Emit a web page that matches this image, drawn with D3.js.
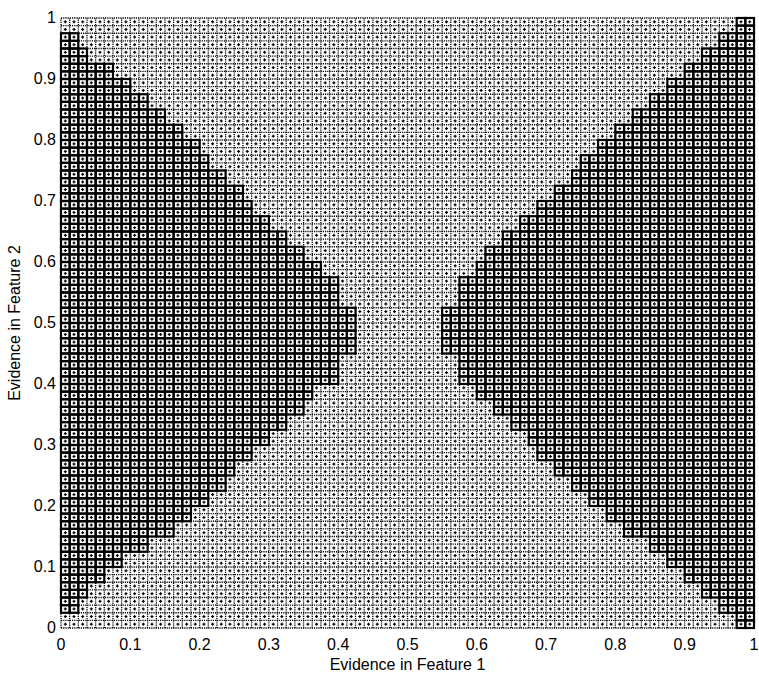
<!DOCTYPE html>
<html>
<head>
<meta charset="utf-8">
<script src="https://cdn.jsdelivr.net/npm/d3@7"></script>
<style>
  body { margin: 0; background: #fff; }
  text { font-family: "Liberation Sans", Arial, sans-serif; fill: #000; }
</style>
</head>
<body>
<svg id="chart" width="759" height="679"></svg>
<script>
// grid of the surface, seen from above
var cellSize = 0.0125;

// horizontal bands, bottom to top, each two grid rows high
var bandY = [0.0125, 0.0375, 0.0625, 0.0875, 0.1125, 0.1375, 0.1625, 0.1875, 0.2125, 0.2375,
             0.2625, 0.2875, 0.3125, 0.3375, 0.3625, 0.3875, 0.4125, 0.4375, 0.4625, 0.4875,
             0.5125, 0.5375, 0.5625, 0.5875, 0.6125, 0.6375, 0.6625, 0.6875, 0.7125, 0.7375,
             0.7625, 0.7875, 0.8125, 0.8375, 0.8625, 0.8875, 0.9125, 0.9375, 0.9625, 0.9875];

// right edge of the left dark region, per band
var leftEdge = [0, 0.02, 0.04, 0.065, 0.09, 0.125, 0.16, 0.185, 0.21, 0.235,
                0.255, 0.275, 0.30, 0.32, 0.345, 0.36, 0.395, 0.40, 0.42, 0.42,
                0.42, 0.395, 0.395, 0.375, 0.355, 0.33, 0.305, 0.28, 0.26, 0.24,
                0.215, 0.195, 0.175, 0.145, 0.12, 0.095, 0.07, 0.04, 0.02, 0];

// left edge of the right dark region, per band
var rightEdge = [0.975, 0.955, 0.93, 0.905, 0.88, 0.845, 0.81, 0.785, 0.76, 0.74,
                 0.715, 0.69, 0.67, 0.645, 0.625, 0.605, 0.572, 0.57, 0.545, 0.545,
                 0.545, 0.572, 0.572, 0.595, 0.615, 0.64, 0.665, 0.69, 0.715, 0.735,
                 0.755, 0.78, 0.80, 0.825, 0.85, 0.875, 0.90, 0.925, 0.955, 0.975];

var xTicks = [0, 0.1, 0.2, 0.3, 0.4, 0.5, 0.6, 0.7, 0.8, 0.9, 1];
var yTicks = [0, 0.1, 0.2, 0.3, 0.4, 0.5, 0.6, 0.7, 0.8, 0.9, 1];

var svg = d3.select('#chart');
var x = d3.scaleLinear().domain([0, 1]).range([61, 754]);
var y = d3.scaleLinear().domain([0, 1]).range([628, 18]);

var nCells = Math.round(1 / cellSize);
var cells = [];
d3.range(nCells).forEach(function(r) {
    var cy = (r + 0.5) * cellSize;
    var band = d3.minIndex(bandY, function(b) { return Math.abs(b - cy); });
    d3.range(nCells).forEach(function(c) {
        var cx = (c + 0.5) * cellSize;
        var dark = cx < leftEdge[band] || cx > rightEdge[band];
        cells.push({c: c, r: r, dark: dark});
    });
});

var plot = svg.append('g');

// light region: dotted mesh
var lines = d3.range(nCells + 1).map(function(i) { return i * cellSize; });
plot.selectAll('line.v').data(lines).enter().append('line')
    .attr('x1', function(d) { return x(d); }).attr('x2', function(d) { return x(d); })
    .attr('y1', y(0)).attr('y2', y(1))
    .attr('stroke', '#000').attr('stroke-width', 1.3)
    .attr('stroke-dasharray', '1.2,1');
plot.selectAll('line.h').data(lines).enter().append('line')
    .attr('y1', function(d) { return y(d); }).attr('y2', function(d) { return y(d); })
    .attr('x1', x(0)).attr('x2', x(1))
    .attr('stroke', '#000').attr('stroke-width', 1.3)
    .attr('stroke-dasharray', '1.2,1');

// centre marks of every cell
var mark = plot.selectAll('g.mark').data(cells).enter().append('g')
    .attr('transform', function(d) {
        return 'translate(' + x((d.c + 0.5) * cellSize) + ',' + y((d.r + 0.5) * cellSize) + ')';
    });
mark.append('rect').attr('x', -1.5).attr('y', -0.6).attr('width', 3).attr('height', 1.2).attr('fill', '#000');
mark.append('rect').attr('x', -0.6).attr('y', -1.5).attr('width', 1.2).attr('height', 3).attr('fill', '#000');

// dark region: solid heavy mesh
plot.selectAll('rect.dark').data(cells.filter(function(d) { return d.dark; })).enter().append('rect')
    .attr('x', function(d) { return x(d.c * cellSize); })
    .attr('y', function(d) { return y((d.r + 1) * cellSize); })
    .attr('width', x(cellSize) - x(0))
    .attr('height', y(0) - y(cellSize))
    .attr('fill', 'none')
    .attr('stroke', '#000').attr('stroke-width', 2.2);

// tick labels
svg.selectAll('text.xt').data(xTicks).enter().append('text')
    .attr('x', function(d) { return x(d); })
    .attr('y', 650)
    .attr('text-anchor', 'middle')
    .style('font-size', '16px')
    .text(function(d) { return d; });
svg.selectAll('text.yt').data(yTicks).enter().append('text')
    .attr('x', 56)
    .attr('y', function(d) { return y(d) + 5; })
    .attr('text-anchor', 'end')
    .style('font-size', '16px')
    .text(function(d) { return d; });

// axis titles
svg.append('text')
    .attr('x', x(0.5)).attr('y', 670)
    .attr('text-anchor', 'middle')
    .style('font-size', '16px')
    .text('Evidence in Feature 1');
svg.append('text')
    .attr('transform', 'translate(20,' + y(0.5) + ') rotate(-90)')
    .attr('text-anchor', 'middle')
    .style('font-size', '16px')
    .text('Evidence in Feature 2');
</script>
</body>
</html>
